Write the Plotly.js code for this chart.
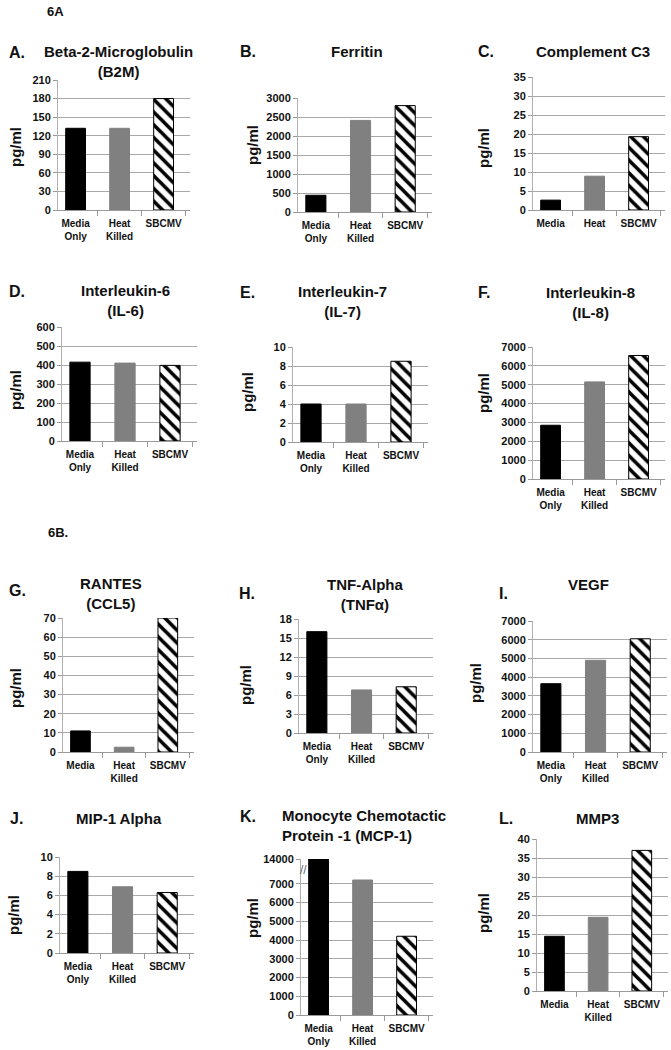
<!DOCTYPE html>
<html>
<head>
<meta charset="utf-8">
<script src="https://cdn.plot.ly/plotly-3.0.1.min.js"></script>
<style>html,body{margin:0;padding:0;background:#fff;}</style>
</head>
<body>
<div id="chart" style="width:671px;height:1050px;"></div>
<script>
// ---- data ----
const catsFull = ["Media<br>Only", "Heat<br>Killed", "SBCMV"];
const catsShort = ["Media", "Heat", "SBCMV"];
const catsMix = ["Media", "Heat<br>Killed", "SBCMV"];

const b2m = [132, 132, 180];
const ferritin = [440, 2410, 2800];
const c3 = [2.6, 8.9, 19.3];
const il6 = [415, 410, 398];
const il7 = [4.0, 4.0, 8.5];
const il8 = [2850, 5150, 6550];
const rantes = [11, 2.5, 70];
const tnf = [16, 6.8, 7.3];
const vegf = [3650, 4900, 6050];
const mip1a = [8.5, 6.9, 6.3];
const mcp1 = [14000, 7200, 4200];
const mmp3 = [14.4, 19.4, 37];

const titles = ["Beta-2-Microglobulin<br>(B2M)", "Ferritin", "Complement C3",
  "Interleukin-6<br>(IL-6)", "Interleukin-7<br>(IL-7)", "Interleukin-8<br>(IL-8)",
  "RANTES<br>(CCL5)", "TNF-Alpha<br>(TNFα)", "VEGF",
  "MIP-1 Alpha", "Monocyte Chemotactic<br>Protein -1 (MCP-1)", "MMP3"];
const letters = ["A.", "B.", "C.", "D.", "E.", "F.", "G.", "H.", "I.", "J.", "K.", "L."];
const unitLabel = "pg/ml";
const sectionLabels = ["6A", "6B."];

// MCP-1 axis break: linear up to 7600, then 7600-14000 compressed
const mcpBreak = 7600, mcpTop = 14000, mcpTopShown = 8320;
function mcpScale(v) { return v <= mcpBreak ? v : mcpBreak + (v - mcpBreak) * (mcpTopShown - mcpBreak) / (mcpTop - mcpBreak); }
const mcpTicks = [0, 1000, 2000, 3000, 4000, 5000, 6000, 7000, 14000];

// ---- layout geometry (pixels) ----
const W = 671, H = 1050;
const px = x => x / W, py = y => 1 - y / H;

const panels = [
  {cats: catsFull,  vals: b2m,      box: [58, 190, 80, 210],   range: [0, 210],  dtick: 30,   t: [118, 61.5], l: [7, 52],  u: [15, 147]},
  {cats: catsFull,  vals: ferritin, box: [298, 432, 98, 212],  range: [0, 3000], dtick: 500,  t: [357, 51],   l: [238, 51], u: [253, 145]},
  {cats: catsShort, vals: c3,       box: [533, 665, 77, 210],  range: [0, 35],   dtick: 5,    t: [593, 51],   l: [476, 51], u: [483, 148]},
  {cats: catsFull,  vals: il6,      box: [62, 197, 327, 441],  range: [0, 600],  dtick: 100,  t: [125, 300.5], l: [7, 291], u: [15, 390]},
  {cats: catsFull,  vals: il7,      box: [293, 428, 347, 442], range: [0, 10],   dtick: 2,    t: [342, 301.5], l: [238, 292], u: [248, 392]},
  {cats: catsFull,  vals: il8,      box: [533, 665, 347, 479], range: [0, 7000], dtick: 1000, t: [590, 302],  l: [476, 292], u: [483, 393]},
  {cats: catsMix,   vals: rantes,   box: [63, 194, 618, 752],  range: [0, 70],   dtick: 10,   t: [111, 593.5], l: [7, 590], u: [15, 688]},
  {cats: catsFull,  vals: tnf,      box: [299, 433, 619, 733], range: [0, 18],   dtick: 3,    t: [365, 594],  l: [237, 593], u: [245, 685]},
  {cats: catsFull,  vals: vegf,     box: [533, 667, 621, 752], range: [0, 7000], dtick: 1000, t: [588, 584],  l: [497, 593], u: [475, 683]},
  {cats: catsFull,  vals: mip1a,    box: [60, 194, 857, 953],  range: [0, 10],   dtick: 2,    t: [119, 818],  l: [8, 818],  u: [13, 915]},
  {cats: catsFull,  vals: mcp1,     box: [301, 433, 859, 1015], range: [0, mcpTopShown], brk: true, t: [280, 825.5], tl: true, l: [238, 816], u: [252, 918]},
  {cats: catsMix,   vals: mmp3,     box: [537, 668, 839, 991], range: [0, 40],   dtick: 5,    t: [597, 818],  l: [497, 818], u: [483, 913]}
];

const FONT = "Liberation Sans, Arial, Helvetica, sans-serif";
const TXT = "#111";
const barStyles = [
  {color: "#000000", line: {color: "#000000", width: 1}},
  {color: "#808080", line: {color: "#808080", width: 1}},
  {color: "#ffffff", line: {color: "#000000", width: 1},
   pattern: {shape: "\\", fgcolor: "#000000", bgcolor: "#ffffff", size: 9, solidity: 0.4}}
];
const data = [];
const layout = {
  width: W, height: H,
  margin: {l: 0, r: 0, t: 0, b: 0},
  paper_bgcolor: "#fff", plot_bgcolor: "#fff",
  showlegend: false,
  barmode: "overlay",
  font: {family: FONT, color: TXT},
  annotations: [],
  shapes: []
};

panels.forEach((p, i) => {
  const n = i === 0 ? "" : String(i + 1);
  const xa = "x" + n, ya = "y" + n;
  const yvals = p.brk ? p.vals.map(mcpScale) : p.vals;
  for (let k = 0; k < 3; k++) {
    data.push({
      type: "bar",
      x: [p.cats[k]], y: [yvals[k]],
      xaxis: xa, yaxis: ya,
      width: 0.45,
      opacity: 1,
      hovertext: [String(p.vals[k])],
      hoverinfo: "x+text",
      marker: barStyles[k]
    });
  }
  const [x0, x1, y0, y1] = p.box;
  layout["xaxis" + n] = {
    domain: [px(x0), px(x1)],
    anchor: ya,
    type: "category",
    categoryorder: "array", categoryarray: p.cats,
    range: [-0.4, 2.6],
    showline: true, linecolor: "#9a9a9a", linewidth: 1,
    ticks: "outside", tickson: "boundaries", ticklen: 5, tickcolor: "#9a9a9a",
    ticklabelstandoff: 4,
    tickangle: 0,
    showgrid: false, zeroline: false,
    tickfont: {family: FONT, size: 10, color: TXT, weight: "bold"},
    fixedrange: true
  };
  const ya_obj = {
    domain: [py(y1), py(y0)],
    anchor: xa,
    range: p.range,
    showline: true, linecolor: "#b0b0b0", linewidth: 1,
    ticks: "outside", ticklen: 4, tickcolor: "#9a9a9a",
    showgrid: true, gridcolor: "#a8a8a8", gridwidth: 1,
    zeroline: false,
    tickfont: {family: FONT, size: 11, color: TXT, weight: "bold"},
    fixedrange: true
  };
  if (p.brk) {
    ya_obj.tickmode = "array";
    ya_obj.tickvals = mcpTicks.map(mcpScale);
    ya_obj.ticktext = mcpTicks.map(String);
  } else {
    ya_obj.tick0 = 0; ya_obj.dtick = p.dtick;
  }
  layout["yaxis" + n] = ya_obj;

  layout.annotations.push({
    xref: "paper", yref: "paper",
    x: px(p.t[0]), y: py(p.t[1]),
    xanchor: p.tl ? "left" : "center", yanchor: "middle",
    align: p.tl ? "left" : "center",
    text: titles[i], showarrow: false,
    font: {family: FONT, size: 15, color: TXT, weight: "bold"}
  });
  layout.annotations.push({
    xref: "paper", yref: "paper",
    x: px(p.l[0]), y: py(p.l[1]),
    xanchor: "left", yanchor: "middle",
    text: letters[i], showarrow: false,
    font: {family: FONT, size: 16, color: TXT, weight: "bold"}
  });
  layout.annotations.push({
    xref: "paper", yref: "paper",
    x: px(p.u[0]), y: py(p.u[1]),
    xanchor: "center", yanchor: "middle",
    textangle: -90,
    text: unitLabel, showarrow: false,
    font: {family: FONT, size: 15, color: TXT, weight: "bold"}
  });
  if (p.brk) {
    layout.annotations.push({
      xref: "paper", yref: ya,
      x: px(x0 + 2), y: mcpScale(9000),
      xanchor: "center", yanchor: "middle",
      text: "//", showarrow: false,
      font: {family: FONT, size: 12, color: "#666"}
    });
  }
});

layout.annotations.push({xref: "paper", yref: "paper", x: px(45), y: py(11), xanchor: "left", yanchor: "middle",
  text: sectionLabels[0], showarrow: false, font: {family: FONT, size: 13, color: TXT, weight: "bold"}});
layout.annotations.push({xref: "paper", yref: "paper", x: px(46), y: py(532), xanchor: "left", yanchor: "middle",
  text: sectionLabels[1], showarrow: false, font: {family: FONT, size: 13, color: TXT, weight: "bold"}});

Plotly.newPlot("chart", data, layout, {displayModeBar: false, staticPlot: true});
</script>
</body>
</html>
